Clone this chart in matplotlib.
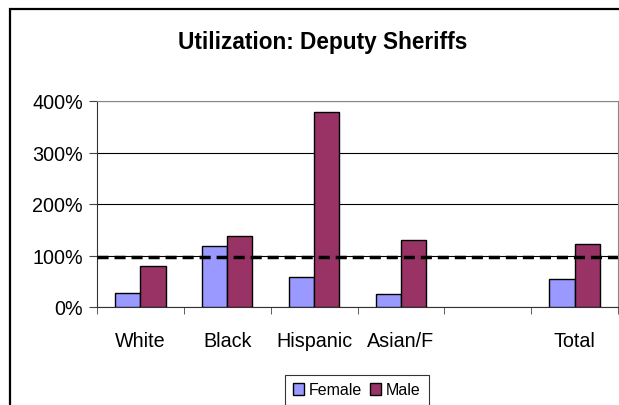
import matplotlib
matplotlib.use("Agg")
import matplotlib.pyplot as plt
import matplotlib.patches as patches
import numpy as np

plt.rcParams['font.family'] = ['Liberation Sans', 'DejaVu Sans']

# utilization ratios in percent, one empty slot before Total
categories = ["White", "Black", "Hispanic", "Asian/F", "", "Total"]
female = [28, 119, 58, 25, None, 55]
male = [79, 138, 379, 131, None, 122]
benchmark = 97

female_vals = np.array([np.nan if v is None else v for v in female], dtype=float) / 100
male_vals = np.array([np.nan if v is None else v for v in male], dtype=float) / 100

fig = plt.figure(figsize=(6.19, 4.06), dpi=100)
ax = fig.add_axes([97 / 619, 1 - 308 / 406, 521 / 619, 206 / 406])

x = np.arange(len(categories))
w = 0.29
ax.bar(x - w / 2, female_vals, w, color="#9999FF", edgecolor="black", linewidth=1, label="Female", zorder=3)
ax.bar(x + w / 2, male_vals, w, color="#993366", edgecolor="black", linewidth=1, label="Male", zorder=3)

ax.axhline(benchmark / 100, color="black", linestyle=(0, (3.2, 1.7)), linewidth=2.5, zorder=4)

ax.set_xlim(-0.5, len(categories) - 0.5)
ax.set_ylim(0, 4)
ax.set_yticks([0, 1, 2, 3, 4])
ax.set_yticklabels(["0%", "100%", "200%", "300%", "400%"])
ax.yaxis.grid(True, color="black", linewidth=0.8, zorder=0)
ax.set_axisbelow(True)

ax.set_xticks(x)
ax.set_xticklabels(categories)
ax.set_xticks(np.arange(len(categories) + 1) - 0.5, minor=True)
ax.tick_params(axis="x", which="major", length=0, pad=17, labelsize=14.2)
ax.tick_params(axis="x", which="minor", length=5, direction="out", color="#444444")
ax.tick_params(axis="y", length=6, direction="out", color="#444444", labelsize=14.2, pad=4)

for side in ["top", "right"]:
    ax.spines[side].set_color("#888888")
for side in ["left", "bottom"]:
    ax.spines[side].set_color("#333333")

fig.text(323 / 619, 1 - 42 / 406, "Utilization: Deputy Sheriffs", ha="center", va="center",
         fontsize=16.3, fontweight="bold")

leg = fig.legend(loc="center", bbox_to_anchor=(357 / 619, 1 - 391 / 406), ncol=2,
                 fontsize=11.5, frameon=True, fancybox=False, edgecolor="black",
                 handlelength=0.7, handleheight=0.7, handletextpad=0.3, columnspacing=0.5,
                 borderpad=0.5)
leg.get_frame().set_linewidth(0.8)

# outer chart border
fig.patches.append(patches.Rectangle((10 / 619, -0.1), 1.2, 1 - 10 / 406 + 0.1,
                                     transform=fig.transFigure, fill=False,
                                     edgecolor="black", linewidth=1.6, clip_on=False))

fig.savefig("out.png", dpi=100)
